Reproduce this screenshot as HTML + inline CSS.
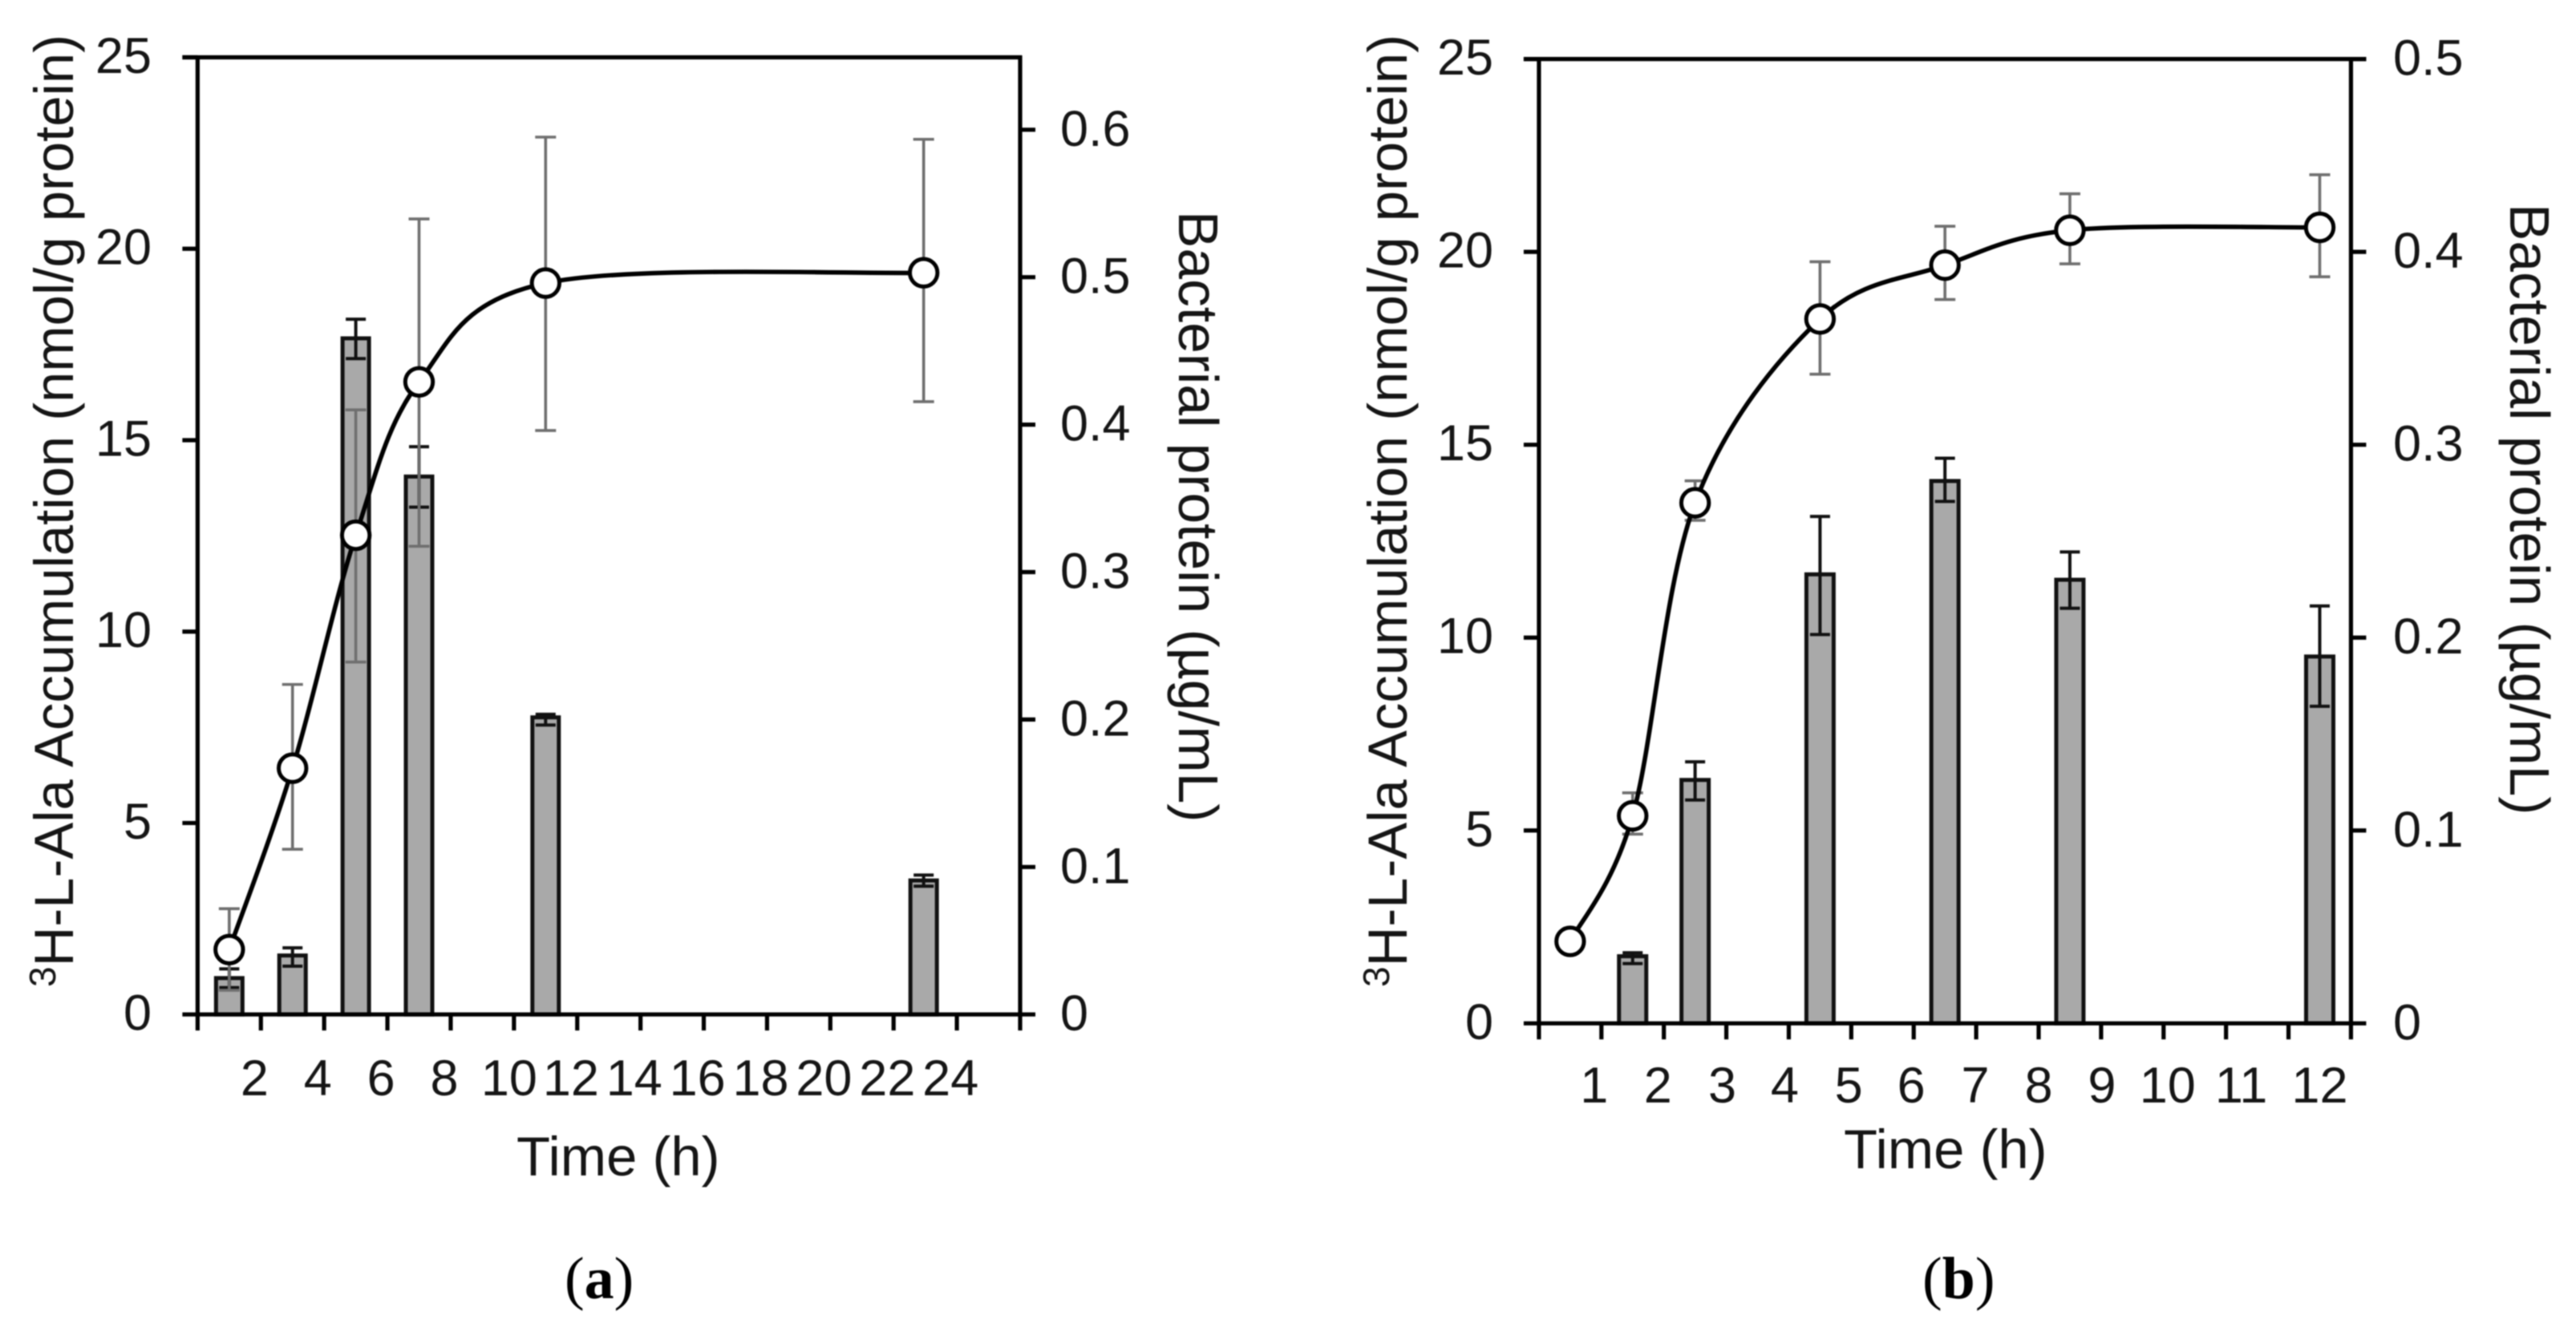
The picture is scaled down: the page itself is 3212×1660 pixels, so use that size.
<!DOCTYPE html>
<html lang="en">
<head>
<meta charset="utf-8">
<title>Accumulation and bacterial protein over time</title>
<style>
html,body{margin:0;padding:0;background:#fff;width:3212px;height:1660px;overflow:hidden}
svg{display:block;font-family:"Liberation Sans",Arial,sans-serif;fill:#151515;filter:blur(0.7px)}
.tick{font-size:63px}
.title{font-size:68.8px}
.rtitle{font-size:69.5px}
.sup{font-size:46px}
.cap{font-family:"Liberation Serif",serif;font-size:74px;fill:#000}
</style>
</head>
<body>
<svg id="figure" width="3212" height="1660" viewBox="0 0 3212 1660" xmlns="http://www.w3.org/2000/svg">
  <g id="panel-a">
    <text class="title" transform="translate(91 1231) rotate(-90)"><tspan class="sup" dy="-22">3</tspan><tspan dy="22">H-L-Ala Accumulation (nmol/g protein)</tspan></text>
    <text class="rtitle" transform="translate(1470 263) rotate(90)">Bacterial protein (µg/mL)</text>
    <text class="title" x="644" y="1466">Time (h)</text>
    <text class="cap" x="704" y="1619">(<tspan font-weight="bold">a</tspan>)</text>
  </g>
  <g id="panel-b">
    <text class="title" transform="translate(1754 1231) rotate(-90)"><tspan class="sup" dy="-22">3</tspan><tspan dy="22">H-L-Ala Accumulation (nmol/g protein)</tspan></text>
    <text class="rtitle" transform="translate(3130 254) rotate(90)">Bacterial protein (µg/mL)</text>
    <text class="title" x="2299" y="1457">Time (h)</text>
    <text class="cap" x="2397" y="1619">(<tspan font-weight="bold">b</tspan>)</text>
  </g>
</svg>
<script>
// Panel (a) data
var aXTicks = [0,2,4,6,8,10,12,14,16,18,20,22,24,26];
var aXLabels = ['2','4','6','8','10','12','14','16','18','20','22','24'];
var aXLabelAt = [1.8,3.8,5.8,7.8,9.85,11.8,13.8,15.8,17.8,19.8,21.8,23.8];
var aLeftTicks = [0,5,10,15,20,25];
var aRightTicks = [0,0.1,0.2,0.3,0.4,0.5,0.6];
var aRightTickLabels = ['0','0.1','0.2','0.3','0.4','0.5','0.6'];
var aBarTimes = [1,3,5,7,11,22.95];
var aBarValues = [0.95,1.54,17.66,14.05,7.76,3.5];
var aBarUpper = [1.19,1.74,18.16,14.83,7.84,3.64];
var aBarLower = [0.7,1.26,17.13,13.25,7.56,3.35];
var aLineTimes = [1,3,5,7,11,22.95];
var aLineValues = [0.044,0.167,0.325,0.429,0.496,0.503];
var aLineUpper = [0.0717,0.2238,0.41,0.5395,0.595,0.5935];
var aLineLower = [0.0164,0.112,0.239,0.3175,0.396,0.4156];

// Panel (b) data
var bXTicks = [0,1,2,3,4,5,6,7,8,9,10,11,12,13];
var bXLabels = ['1','2','3','4','5','6','7','8','9','10','11','12'];
var bXLabelAt = [0.884,1.905,2.936,3.936,4.96,5.96,6.987,8,9.013,10.064,11.244,12.5];
var bLeftTicks = [0,5,10,15,20,25];
var bRightTicks = [0,0.1,0.2,0.3,0.4,0.5];
var bRightTickLabels = ['0','0.1','0.2','0.3','0.4','0.5'];
var bBarTimes = [1.5,2.5,4.5,6.5,8.5,12.5];
var bBarValues = [1.74,6.31,11.64,14.06,11.5,9.51];
var bBarUpper = [1.83,6.78,13.14,14.65,12.22,10.82];
var bBarLower = [1.55,5.79,10.08,13.53,10.76,8.22];
var bLineTimes = [0.5,1.5,2.5,4.5,6.5,8.5,12.5];
var bLineValues = [0.0425,0.1076,0.2699,0.3652,0.3931,0.4112,0.4127];
var bLineUpper = [0.0425,0.1195,0.2813,0.3949,0.4133,0.4301,0.44];
var bLineLower = [0.0425,0.0981,0.2608,0.3366,0.3753,0.3938,0.3871];

var SVGNS = 'http://www.w3.org/2000/svg';

function make(parent, tag, attrs) {
  var el = document.createElementNS(SVGNS, tag);
  for (var k in attrs) { el.setAttribute(k, attrs[k]); }
  parent.appendChild(el);
  return el;
}

function smoothPath(xs, ys) {
  var d = 'M' + xs[0] + ' ' + ys[0];
  var n = xs.length;
  for (var i = 0; i < n - 1; i++) {
    var i0 = Math.max(i - 1, 0), i3 = Math.min(i + 2, n - 1);
    var c1x = xs[i] + (xs[i + 1] - xs[i0]) / 6;
    var c1y = ys[i] + (ys[i + 1] - ys[i0]) / 6;
    var c2x = xs[i + 1] - (xs[i3] - xs[i]) / 6;
    var c2y = ys[i + 1] - (ys[i3] - ys[i]) / 6;
    d += 'C' + c1x + ' ' + c1y + ' ' + c2x + ' ' + c2y + ' ' + xs[i + 1] + ' ' + ys[i + 1];
  }
  return d;
}

function errorBar(parent, x, yTop, yBot, cap, color, width) {
  var g = make(parent, 'path', {
    d: 'M' + x + ' ' + yTop + 'V' + yBot + 'M' + (x - cap) + ' ' + yTop + 'H' + (x + cap) + 'M' + (x - cap) + ' ' + yBot + 'H' + (x + cap),
    fill: 'none', stroke: color, 'stroke-width': width
  });
  return g;
}

function drawPanel(p) {
  var root = document.getElementById(p.id);
  function X(v) { return p.x0 + (v - p.xMin) * (p.x1 - p.x0) / (p.xMax - p.xMin); }
  function YL(v) { return p.y0 + v * (p.yTop - p.y0) / p.leftMax; }
  function YR(v) { return p.y0 + v * p.rightPx; }
  var el, i;

  // bars (left axis)
  for (i = 0; i < p.barTimes.length; i++) {
    el = make(root, 'rect', {
      x: X(p.barTimes[i]) - p.barW / 2, y: YL(p.barValues[i]),
      width: p.barW, height: p.y0 - YL(p.barValues[i]),
      fill: '#a9a9a9', stroke: '#111', 'stroke-width': 5
    });
    
    
    el = errorBar(root, X(p.barTimes[i]), YL(p.barUpper[i]), YL(p.barLower[i]), 12.5, '#111', 4);
    
    
  }

  // axes frame
  el = make(root, 'path', {
    d: 'M' + p.x0 + ' ' + p.y0 + 'V' + p.yTop + 'M' + (p.x0 - 19) + ' ' + p.yTop + 'H' + (p.x1 + p.topExt) +
       'M' + p.x1 + ' ' + (p.yTop - 2) + 'V' + p.y0 + 'M' + p.x0 + ' ' + p.y0 + 'H' + p.x1,
    fill: 'none', stroke: '#000', 'stroke-width': 5.2
  });
  
  

  // left ticks and labels
  for (i = 0; i < p.leftTicks.length; i++) {
    el = make(root, 'line', { x1: p.x0 - 19, x2: p.x0, y1: YL(p.leftTicks[i]), y2: YL(p.leftTicks[i]), stroke: '#000', 'stroke-width': 5.2 });
    
    
    el = make(root, 'text', { 'class': 'tick', x: p.leftLabelX, y: YL(p.leftTicks[i]) + 19.5, 'text-anchor': 'end' });
    el.textContent = String(p.leftTicks[i]);
    
    
  }

  // right ticks and labels
  for (i = 0; i < p.rightTicks.length; i++) {
    el = make(root, 'line', { x1: p.x1, x2: p.x1 + 19, y1: YR(p.rightTicks[i]), y2: YR(p.rightTicks[i]), stroke: '#000', 'stroke-width': 5.2 });
    
    
    el = make(root, 'text', { 'class': 'tick', x: p.rightLabelX, y: YR(p.rightTicks[i]) + 20 });
    el.textContent = p.rightLabels[i];
    
    
  }

  // x ticks and labels
  for (i = 0; i < p.xTicks.length; i++) {
    el = make(root, 'line', { x1: X(p.xTicks[i]), x2: X(p.xTicks[i]), y1: p.y0, y2: p.y0 + 20, stroke: '#000', 'stroke-width': 5.2 });
    
    
  }
  for (i = 0; i < p.xLabels.length; i++) {
    el = make(root, 'text', { 'class': 'tick', x: X(p.xLabelAt[i]), y: p.xLabelY, 'text-anchor': 'middle' });
    el.textContent = p.xLabels[i];
    
    
  }

  // line error bars (right axis)
  for (i = 0; i < p.lineTimes.length; i++) {
    if (p.lineUpper[i] === p.lineLower[i]) { continue; }
    el = errorBar(root, X(p.lineTimes[i]), YR(p.lineUpper[i]), YR(p.lineLower[i]), 13, '#6f6f6f', 3.6);
    
    
  }

  // smooth line
  el = make(root, 'path', {
    d: smoothPath(p.lineTimes.map(X), p.lineValues.map(YR)),
    fill: 'none', stroke: '#000', 'stroke-width': 5.6
  });
  
  

  // points
  for (i = 0; i < p.lineTimes.length; i++) {
    el = make(root, 'circle', {
      cx: X(p.lineTimes[i]), cy: YR(p.lineValues[i]), r: 17.2,
      fill: '#fff', stroke: '#000', 'stroke-width': 5
    });
    
    
  }
}

drawPanel({
  id: 'panel-a', x0: 246.4, x1: 1272, xMin: 0, xMax: 26, y0: 1265.2, yTop: 71.5, leftMax: 25, rightPx: -1839,
  leftLabelX: 189, rightLabelX: 1322, xLabelY: 1366, topExt: 2.4, barW: 33,
  xTicks: aXTicks, xLabels: aXLabels, xLabelAt: aXLabelAt,
  leftTicks: aLeftTicks, rightTicks: aRightTicks, rightLabels: aRightTickLabels,
  barTimes: aBarTimes, barValues: aBarValues, barUpper: aBarUpper, barLower: aBarLower,
  lineTimes: aLineTimes, lineValues: aLineValues, lineUpper: aLineUpper, lineLower: aLineLower
});

drawPanel({
  id: 'panel-b', x0: 1918.9, x1: 2931.4, xMin: 0, xMax: 13, y0: 1276.3, yTop: 73.6, leftMax: 25, rightPx: -2405.4,
  leftLabelX: 1862, rightLabelX: 2984, xLabelY: 1375, topExt: 19, barW: 34,
  xTicks: bXTicks, xLabels: bXLabels, xLabelAt: bXLabelAt,
  leftTicks: bLeftTicks, rightTicks: bRightTicks, rightLabels: bRightTickLabels,
  barTimes: bBarTimes, barValues: bBarValues, barUpper: bBarUpper, barLower: bBarLower,
  lineTimes: bLineTimes, lineValues: bLineValues, lineUpper: bLineUpper, lineLower: bLineLower
});
</script>
</body>
</html>
